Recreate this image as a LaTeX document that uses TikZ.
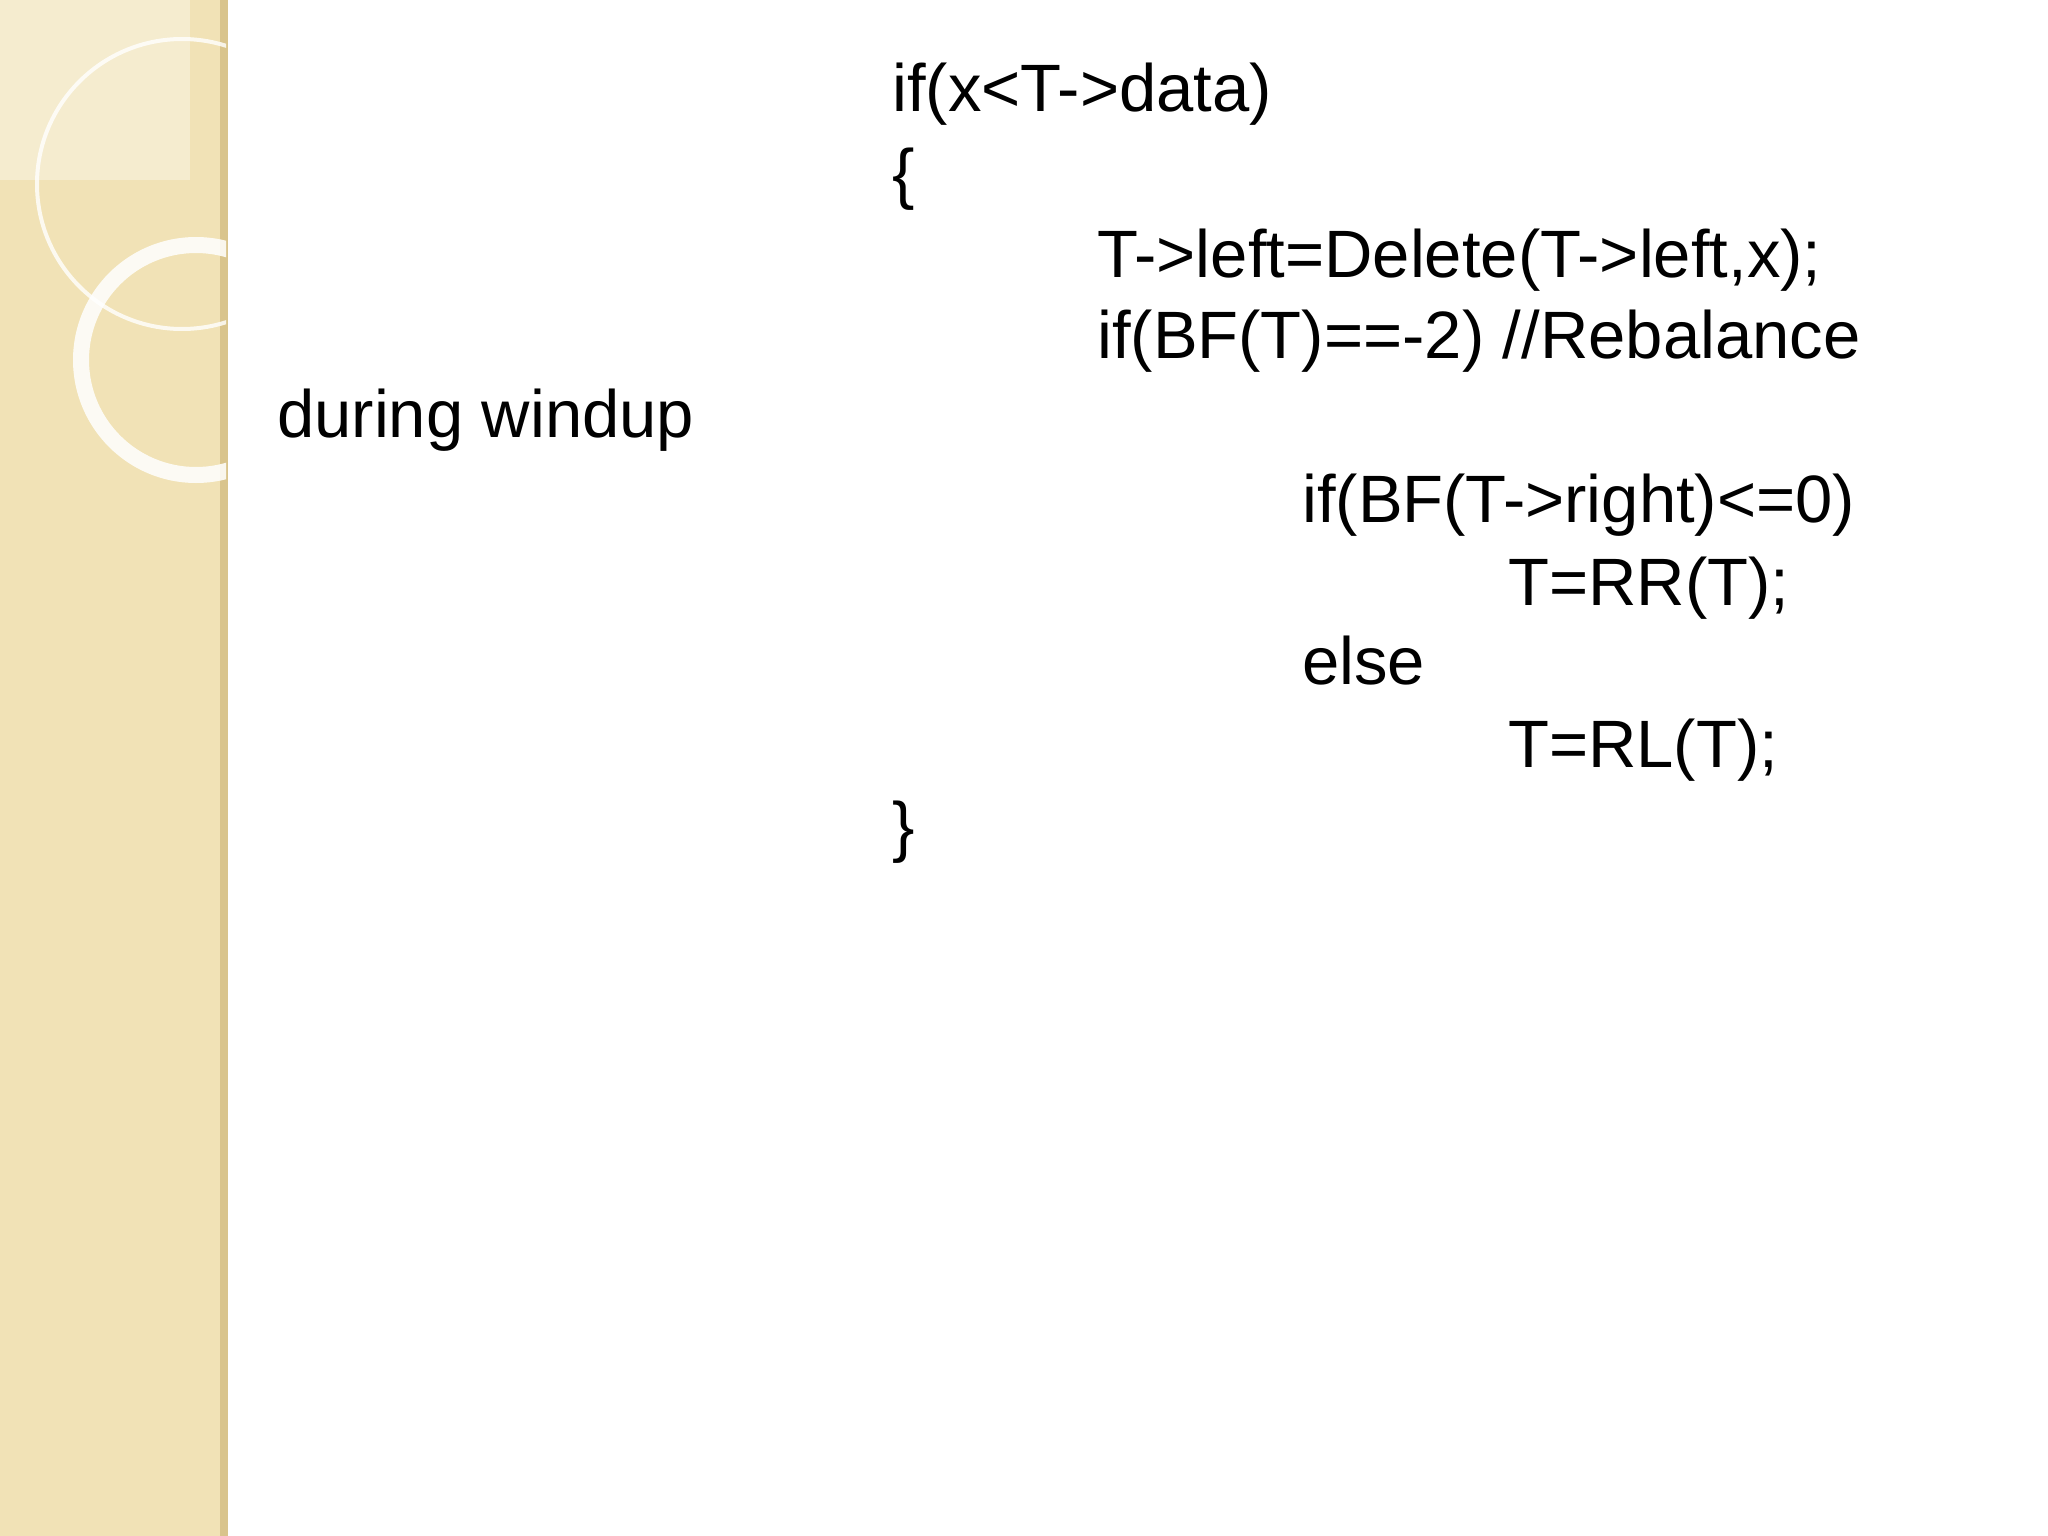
\documentclass[tikz,border=0pt]{standalone}
\usepackage{fontspec}
\setmainfont{Liberation Sans}
\definecolor{side}{HTML}{F1E2B6}
\definecolor{sideedge}{HTML}{D9C48C}
\begin{document}
\begin{tikzpicture}[x=1pt,y=-1pt,
  code/.style={anchor=base west,inner sep=0pt,font=\fontsize{67}{80}\selectfont}]
\useasboundingbox (0,0) rectangle (2048,1536);
\fill[white] (0,0) rectangle (2048,1536);
\fill[side] (0,0) rectangle (226,1536);
\fill[sideedge] (220,0) rectangle (228,1536);
\begin{scope}
\clip (0,0) rectangle (226,1536);
\fill[white,opacity=0.35] (0,0) rectangle (190,180);
\draw[white,line width=4pt,opacity=0.8] (182,184) circle (145);
\draw[white,line width=16pt,opacity=0.85] (196,360) circle (115);
\end{scope}
\node[code] (l1) at (892,112) {if(x<T->data)};
\node[code] (l2) at (892,196) {\{};
\node[code] (l3) at (1097,277) {T->left=Delete(T->left,x);};
\node[code] (l4) at (1097,358) {if(BF(T)==-2) //Rebalance};
\node[code] (l5) at (277,437) {during windup};
\node[code] (l6) at (1302,522) {if(BF(T->right)<=0)};
\node[code] (l7) at (1508,605) {T=RR(T);};
\node[code] (l8) at (1302,684) {else};
\node[code] (l9) at (1508,767) {T=RL(T);};
\node[code] (l10) at (892,849) {\}};
\end{tikzpicture}
\end{document}
